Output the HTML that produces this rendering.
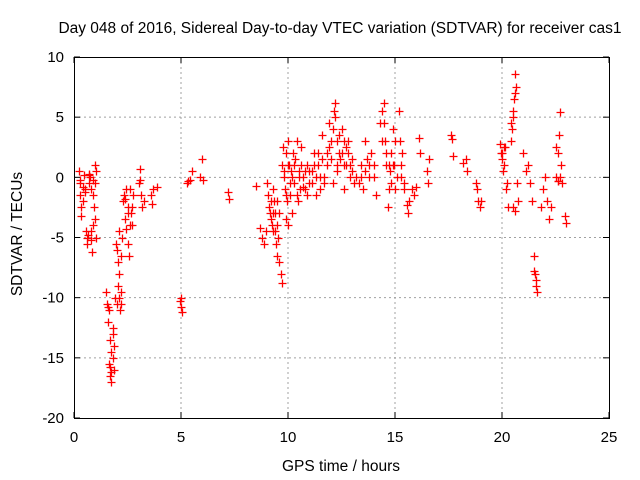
<!DOCTYPE html>
<html><head><meta charset="utf-8"><style>
body{margin:0;background:#fff;}
svg{display:block;font-family:"Liberation Sans",Arial,sans-serif;}
</style></head><body>
<svg id="chart" width="640" height="480">
<rect width="640" height="480" fill="#fff"/>
</svg>
<script>
const xTicks=[0,5,10,15,20,25];
const yTicks=[-20,-15,-10,-5,0,5,10];
const xs=[0.25,0.3,0.3,0.35,0.35,0.4,0.45,0.5,0.55,0.6,0.65,0.7,0.75,0.8,0.85,0.9,0.95,1.0,1.05,1.0,0.7,0.8,0.9,1.05,
1.5,1.55,1.6,1.65,1.7,1.75,1.8,1.85,1.8,1.9,1.7,1.65,1.75,1.85,
1.95,2.0,2.05,2.1,2.15,2.2,2.05,2.1,2.25,2.2,2.0,
2.3,2.35,2.4,2.45,2.5,2.55,2.6,2.65,2.7,2.75,2.5,2.4,
3.05,3.1,3.15,3.2,3.1,3.25,3.6,3.65,3.7,3.9,
4.95,5.0,5.05,5.0,5.3,5.4,5.5,5.35,5.9,6.0,6.05,7.2,7.25,8.5,
8.7,8.8,8.9,8.95,9.0,9.05,9.1,9.15,9.2,9.25,9.3,9.35,9.4,9.45,9.5,9.55,9.6,9.65,9.7,9.6,9.5,9.3,
9.7,9.75,9.8,9.85,9.9,9.95,10.0,10.05,10.1,10.15,10.2,10.25,10.3,10.35,10.4,10.45,10.5,10.55,10.6,10.0,9.9,
10.7,10.8,10.9,11.0,11.1,11.2,11.3,11.4,11.5,11.6,11.7,11.8,11.9,12.0,12.1,
12.15,12.2,12.3,12.4,12.5,12.6,12.7,12.8,12.9,13.0,13.1,12.6,12.3,12.45,
13.3,13.4,13.5,13.6,13.7,13.8,13.9,14.0,14.1,
14.3,14.4,14.5,14.55,14.6,14.65,14.7,14.75,14.8,14.9,15.0,14.95,
15.2,15.25,15.3,15.35,15.4,15.55,15.6,15.65,15.8,15.9,16.0,16.1,16.15,16.5,16.55,16.6,
17.6,17.65,17.7,18.2,18.3,18.35,18.8,18.85,18.9,18.95,19.0,
19.9,19.95,20.0,20.05,20.1,20.2,20.3,20.15,20.25,
20.4,20.45,20.5,20.55,20.6,20.65,20.7,20.75,20.5,20.6,
21.0,21.1,21.2,21.3,21.4,21.5,21.55,21.6,21.65,21.5,
21.8,21.9,22.0,22.1,22.2,22.3,22.5,22.6,22.65,22.7,22.75,22.8,22.6,22.95,23.0,
0.3,0.4,0.6,0.7,0.9,1.0,0.5,0.8,1.7,1.75,1.8,1.6,2.1,2.2,2.5,2.6,2.7,2.45,
9.2,9.3,9.4,9.5,9.8,9.9,10.0,10.1,10.2,10.3,10.4,10.5,10.6,10.7,10.8,10.9,11.0,11.1,11.2,11.3,11.4,11.5,11.6,11.7,11.8,11.9,12.0,
12.1,12.2,12.3,12.4,12.5,12.6,12.7,12.8,12.9,13.0,13.2,13.4,13.6,13.8,14.0,14.4,14.5,14.6,14.7,14.8,14.9,15.0,15.1,15.3,15.4,
20.0,20.1,20.4,20.5,20.6,22.6,22.7,22.5,21.6];
const ys=[0.5,-0.5,-1.5,-2.5,-3.2,-0.8,0.2,-1.2,-4.5,-5,-4.8,-0.5,0,-5.2,-6.2,-4,-2.5,-3.5,0.5,1,0.3,-1,-0.2,-5,
-9.5,-10.5,-12,-15.5,-16.5,-17,-15,-14,-12.5,-10,-13.5,-11,-14.5,-16,
-5.5,-6,-9,-10,-11,-9.5,-7,-4.5,-5,-6.5,-10.5,
-2,-1.5,-3.5,-4.3,-2.5,-6.5,-1,-3,-4,-1.5,-5.5,-1.8,
-0.5,0.7,-1.5,-2.5,-0.2,-2,-1.5,-2.2,-1,-0.8,
-10.3,-10.8,-11.2,-10,-0.5,-0.2,0.5,-0.3,0,1.5,-0.2,-1.2,-1.8,-0.7,
-4.2,-5,-5.5,-4.5,-0.5,-1.5,-2.5,-3,-3.5,-4,-3,-2,-4.5,-5.5,-6.5,-5,-7,-8,-8.8,-3,-2,-1,
1,2.5,0,-1,2,-2,3,1,-1.5,0.5,-3,2,-0.5,1.5,3,-2,0,-1,2.5,-4,-3.5,
0,-1,1,-0.5,0.5,2,-1.5,1,-1,3.5,0,2,4.5,1.5,-0.5,
5.5,6.2,3,2,4,1,2.5,3,0,1.5,-0.5,-1,0.5,1.5,
-0.5,0,-1,3,1.5,0,2,1,-1.5,
4.5,5.5,6.2,3,1,-2.5,-1,0.5,2,4,-1,1,
5.5,3,0,2,-1,-2.3,-3,-2,-1,-1.5,-0.8,3.3,2,0.5,-0.5,1.5,
3.5,3.2,1.8,1.2,1.5,0.5,-0.5,-1,-2,-2.5,-2,
2.8,2,1.5,0.5,1,-1,-2.5,2.5,-0.5,
3,4,5.5,6.5,8.6,7.5,-0.5,-2,-2.5,-2.8,
2,0.5,1,-0.5,-2,-6.5,-8,-9,-9.5,-7.8,
-2.5,-1,0,-2,-3.5,-2.5,0,2,3.5,5.4,1,-0.5,-0.3,-3.2,-3.8,
-0.2,-2,-5.5,0.2,-1.5,-0.5,-1,-4.5,-15.8,-16.2,-13,-10.8,-8,-10.5,-3,-4,-2.5,-1,
-2,-4.5,-3,-4,0.5,-1.5,1,-0.5,0,1,-1.5,0.5,1,-0.8,0.5,-1.5,0.5,-0.5,1,0,2,0,1.5,-0.5,1,2.5,3,
4,5,1,3.5,2,3,1,2,1,0.5,0,1,0.5,1,0,3,4.5,2,1,-0.5,1,3,0,1,-0.5,
2,2.5,4.5,5,7,-0.3,0,2.5,-8.5];
const L=74,R=609,T=57,B=418,x0=0,x1=25,y0=-20,y1=10;
const sx=v=>L+(v-x0)/(x1-x0)*(R-L), sy=v=>B-(v-y0)/(y1-y0)*(B-T);
const svg=document.getElementById('chart'),NS='http://www.w3.org/2000/svg';
function mk(t,a,p){const e=document.createElementNS(NS,t);for(const k in a)e.setAttribute(k,a[k]);(p||svg).appendChild(e);return e;}
const grid=mk('g',{});


xTicks.forEach(v=>{const x=sx(v);
 if(v>x0&&v<x1)mk('line',{x1:x,x2:x,y1:T,y2:B,stroke:'#a0a0a0','stroke-dasharray':'2,3'},grid);
 mk('line',{x1:x,x2:x,y1:B,y2:B-6,stroke:'#000'});mk('line',{x1:x,x2:x,y1:T,y2:T+6,stroke:'#000'});
 const t=mk('text',{x:x,y:B+24,'text-anchor':'middle','font-size':'15'});t.textContent=v;
 
 });
yTicks.forEach(v=>{const y=sy(v);
 if(v>y0&&v<y1)mk('line',{x1:L,x2:R,y1:y,y2:y,stroke:'#a0a0a0','stroke-dasharray':'2,3'},grid);
 mk('line',{x1:L,x2:L+6,y1:y,y2:y,stroke:'#000'});mk('line',{x1:R,x2:R-6,y1:y,y2:y,stroke:'#000'});
 const t=mk('text',{x:L-10,y:y+5,'text-anchor':'end','font-size':'15'});t.textContent=v;
 
 });
const pts=mk('g',{});


xs.forEach((xv,i)=>{const x=Math.round(sx(xv))+0.5,y=Math.round(sy(ys[i]))+0.5;
 const p=mk('path',{d:`M${x-4},${y}H${x+4}M${x},${y-4}V${y+4}`,stroke:'#ff0000','stroke-width':'1.3',fill:'none'},pts);
 
 });
const fr=mk('rect',{x:L+0.5,y:T+0.5,width:R-L,height:B-T,fill:'none',stroke:'#000'});


const ti=mk('text',{x:340,y:33,'text-anchor':'middle','font-size':'15.5'});ti.textContent='Day 048 of 2016, Sidereal Day-to-day VTEC variation (SDTVAR) for receiver cas1';


const xl=mk('text',{x:341,y:471,'text-anchor':'middle','font-size':'15.5'});xl.textContent='GPS time / hours';


const yl=mk('text',{x:0,y:0,'text-anchor':'middle','font-size':'15.5',transform:'translate(22,234) rotate(-90)'});yl.textContent='SDTVAR / TECUs';


</script>
</body></html>
